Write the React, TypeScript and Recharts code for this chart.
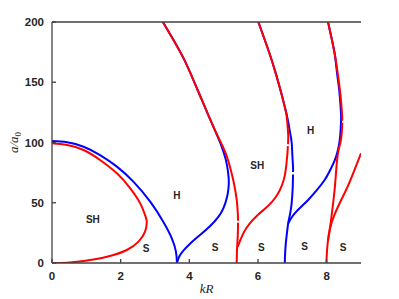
import { LineChart, Line, XAxis, YAxis, ReferenceDot, Label } from 'recharts'

const X_TICKS = [0, 2, 4, 6, 8]
const Y_TICKS = [0, 50, 100, 150, 200]

type Pt = [number, number | null]

// curves as [kR, a/a0] pairs, a null value leaves a small gap in the line
const BLUE_LOBE: Pt[] = [
  [0, 101.2], [0.44, 100.2], [0.92, 96.5], [1.4, 89.6], [1.89, 80], [2.37, 67.5], [2.86, 50.9],
  [3.24, 34.3], [3.49, 20.5], [3.61, 9.4], [3.64, 0],
]
const BLUE_MID: Pt[] = [
  [3.64, 0], [3.7, 5], [3.82, 10], [4.02, 16], [4.3, 23], [4.6, 30.5], [4.85, 38.5], [5.0, 46],
  [5.1, 55], [5.14, 62], [5.15, 67], [5.13, 75], [5.06, 86], [4.95, 96], [4.8, 106.5],
  [4.55, 123], [4.31, 139], [4.07, 155], [3.83, 170], [3.53, 185.5], [3.23, 200],
]
const BLUE_RIGHT: Pt[] = [
  [6.01, 200], [6.18, 186.5], [6.35, 172.6], [6.5, 159], [6.64, 145], [6.76, 132], [6.86, 120],
  [6.93, 109], [6.98, 100], [7.0, 90], [7.02, 80], [7.02, 75.5], [7.02, null], [7.02, 73.5],
  [7.01, 62], [6.98, 49.5], [6.93, 40], [6.88, 33], [6.84, 24], [6.81, 16.3], [6.79, 8], [6.78, 0],
]
const BLUE_FAR: Pt[] = [
  [6.88, 33], [6.96, 37], [7.07, 41.2], [7.25, 46.5], [7.46, 52.3], [7.7, 60], [7.94, 68.9],
  [8.1, 77], [8.24, 85.5], [8.33, 94], [8.38, 102], [8.41, 112], [8.42, 122], [8.4, 132],
  [8.36, 145], [8.3, 158], [8.24, 172.6], [8.14, 187], [8.04, 200],
]

const RED_LOBE: Pt[] = [
  [0, 99.3], [0.44, 97.9], [0.92, 93.8], [1.4, 85.5], [1.89, 74.4], [2.28, 62], [2.57, 49.5],
  [2.71, 39.8], [2.76, 34.3], [2.71, 26], [2.52, 17.7], [2.18, 10.8], [1.6, 5.2], [0.92, 1.7],
  [0.44, 0.3], [0, 0],
]
const RED_MID: Pt[] = [
  [3.23, 200], [3.53, 185.5], [3.83, 170], [4.07, 155], [4.31, 139], [4.55, 123], [4.8, 107],
  [5.04, 92.4], [5.18, 80], [5.3, 66], [5.38, 52.3], [5.41, 42], [5.42, 35], [5.42, null],
  [5.42, 33.5], [5.41, 22], [5.39, 12], [5.38, 0],
]
const RED_SH: Pt[] = [
  [5.41, 13.5], [5.47, 18], [5.58, 25], [5.75, 32.5], [6.0, 40], [6.2, 45], [6.4, 50.5],
  [6.57, 57], [6.69, 64], [6.78, 72.5], [6.83, 82.7], [6.86, 92], [6.87, 97], [6.87, null],
  [6.875, 98.5], [6.88, 106], [6.86, 114], [6.83, 122.8], [6.74, 134], [6.64, 145], [6.5, 159],
  [6.35, 172.6], [6.18, 186.5], [6.01, 200],
]
const RED_RIGHT: Pt[] = [
  [8.04, 200], [8.14, 187], [8.24, 172.6], [8.32, 158], [8.38, 145], [8.42, 134], [8.45, 122.8],
  [8.455, 118], [8.455, null], [8.455, 116.5], [8.44, 108], [8.4, 100], [8.33, 91], [8.28, 78],
  [8.24, 63.3], [8.19, 50], [8.14, 38.4], [8.09, 28], [8.04, 19], [8.01, 10], [7.99, 0],
]
const RED_FAR: Pt[] = [
  [8.04, 19], [8.08, 26], [8.14, 33], [8.22, 39.5], [8.33, 46.7], [8.47, 55], [8.62, 64],
  [8.8, 76.5], [9.0, 91],
]

const BLUE_CURVES = [BLUE_LOBE, BLUE_MID, BLUE_RIGHT, BLUE_FAR]
const RED_CURVES = [RED_LOBE, RED_MID, RED_SH, RED_RIGHT, RED_FAR]

const REGION_TEXT = ['SH', 'S', 'H', 'S', 'SH', 'S', 'H', 'S', 'S']
const REGION_KR = [1.19, 2.74, 3.64, 4.75, 5.98, 6.1, 7.53, 7.36, 8.48]
const REGION_A = [36.5, 12.2, 56.4, 12.5, 80.7, 13, 109.8, 14, 13]

const toRows = (pts: Pt[]) => pts.map(([x, y]) => ({ x, y }))

const AXIS = '#404040'
const TEXT = '#262626'

const XTitle = ({ viewBox }: any) => (
  <text
    x={viewBox.x + viewBox.width / 2}
    y={viewBox.y + 30}
    textAnchor="middle"
    fontFamily="Liberation Serif"
    fontStyle="italic"
    fontSize={13}
    fill={TEXT}
  >
    kR
  </text>
)

const YTitle = ({ viewBox }: any) => (
  <text
    transform={`translate(18, ${viewBox.y + viewBox.height / 2}) rotate(-90)`}
    textAnchor="middle"
    fontFamily="Liberation Serif"
    fontStyle="italic"
    fontSize={13}
    fill={TEXT}
  >
    <tspan>a/a</tspan>
    <tspan fontStyle="normal" fontSize={9} dy={3}>
      0
    </tspan>
  </text>
)

const tickFont = { fontFamily: 'Liberation Sans, Arial', fontSize: 11.5, fontWeight: 'bold', fill: TEXT }

export default function App() {
  return (
    <div style={{ position: 'absolute', left: 0, top: 0, width: 399, height: 299, background: '#fff' }}>
      <LineChart width={399} height={299} margin={{ top: 22, right: 38, bottom: 0, left: 0 }}>
        <XAxis
          dataKey="x"
          type="number"
          domain={[0, 9]}
          ticks={X_TICKS}
          allowDataOverflow
          height={36}
          tickSize={-4}
          tickMargin={13}
          tick={tickFont}
          stroke={AXIS}
          strokeWidth={1.3}
        >
          <Label content={<XTitle />} />
        </XAxis>
        <XAxis
          xAxisId="top"
          orientation="top"
          mirror
          type="number"
          domain={[0, 9]}
          ticks={X_TICKS}
          allowDataOverflow
          tickSize={4}
          tickFormatter={() => ''}
          stroke={AXIS}
          strokeWidth={1.3}
        />
        <YAxis
          dataKey="y"
          type="number"
          domain={[0, 200]}
          ticks={Y_TICKS}
          allowDataOverflow
          width={52}
          tickSize={-4}
          tickMargin={12}
          tick={tickFont}
          stroke={AXIS}
          strokeWidth={1.3}
        >
          <Label content={<YTitle />} />
        </YAxis>
        <YAxis
          yAxisId="right"
          orientation="right"
          mirror
          type="number"
          domain={[0, 200]}
          ticks={Y_TICKS}
          allowDataOverflow
          width={0}
          tickSize={4}
          tickFormatter={() => ''}
          stroke={AXIS}
          strokeWidth={1.3}
        />
        {BLUE_CURVES.map((c, i) => (
          <Line
            key={`b${i}`}
            data={toRows(c)}
            dataKey="y"
            type="natural"
            stroke="#0000ff"
            strokeWidth={2}
            dot={false}
            isAnimationActive={false}
          />
        ))}
        {RED_CURVES.map((c, i) => (
          <Line
            key={`r${i}`}
            data={toRows(c)}
            dataKey="y"
            type="natural"
            stroke="#ff0000"
            strokeWidth={2}
            dot={false}
            isAnimationActive={false}
          />
        ))}
        {REGION_TEXT.map((t, i) => (
          <ReferenceDot
            key={`t${i}`}
            x={REGION_KR[i]}
            y={REGION_A[i]}
            r={0}
            fill="none"
            stroke="none"
            label={{
              value: t,
              position: 'center',
              fontFamily: 'Liberation Sans, Arial',
              fontSize: 10,
              fontWeight: 'bold',
              fill: TEXT,
            }}
          />
        ))}
      </LineChart>
    </div>
  )
}
